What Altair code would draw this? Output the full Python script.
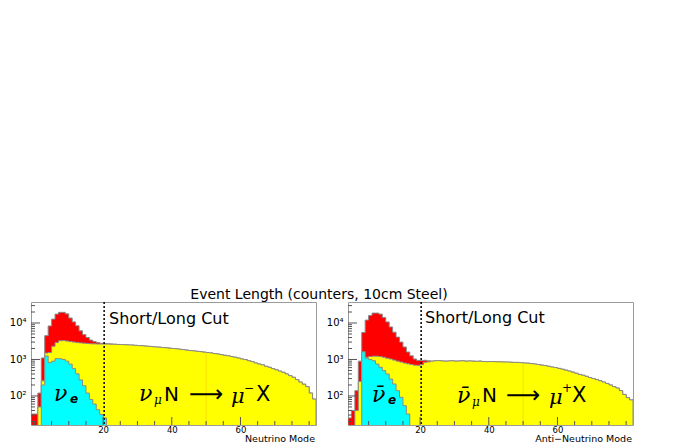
import altair as alt
import pandas as pd

# ---------------- data (bin starts, 1 counter wide) ----------------
BINS = list(range(-1, 82))

# Neutrino mode
NU_ALL = [32, 32, 120, 1100, 4500, 8300, 12800, 17500, 19600, 19600,
          17800, 13700, 10700, 8400, 6100, 4800, 4000, 3400, 3100, 2900,
          2780, 2720, 2690, 2660, 2620, 2580, 2560, 2530, 2500, 2480,
          2440, 2400, 2370, 2320, 2290, 2240, 2200, 2170, 2120, 2090,
          2040, 2000, 1960, 1900, 1860, 1800, 1750, 1720, 1670, 1640,
          1590, 1550, 1510, 1450, 1410, 1350, 1300, 1260, 1200, 1150,
          1090, 1030, 990, 920, 870, 800, 750, 710, 650, 610,
          560, 520, 480, 445, 400, 360, 325, 280, 240, 210,
          180, 120, 82]
NU_NUMU = [0, 0, 50, 260, 1500, 1550, 2300, 2900, 3250, 3300,
           3200, 3100, 3000, 2900, 2850, 2800, 2750, 2700, 2680, 2650,
           2650, 2640, 2640, 2620, 2600, 2580, 2560, 2530, 2500, 2480,
           2440, 2400, 2370, 2320, 2290, 2240, 2200, 2170, 2120, 2090,
           2040, 2000, 1960, 1900, 1860, 1800, 1750, 1720, 1670, 1640,
           1590, 1550, 1510, 1450, 1410, 1350, 1300, 1260, 1200, 1150,
           1090, 1030, 990, 920, 870, 800, 750, 710, 650, 610,
           560, 520, 480, 445, 400, 360, 325, 280, 240, 210,
           180, 120, 82]
NU_NUE = [0, 0, 0, 200, 1250, 820, 900, 1050, 1050, 1000,
          900, 745, 560, 405, 275, 190, 120, 80, 60, 42,
          31, 25] + [0] * 61

# Anti-neutrino mode
ANU_ALL = [25, 40, 140, 900, 5500, 12000, 16000, 18700, 18700, 17500,
           14200, 10700, 7800, 5600, 4100, 3000, 2200, 1600, 1260, 1030,
           940, 940, 950, 920, 900, 920, 930, 910, 900, 910,
           920, 900, 910, 920, 900, 910, 900, 890, 900, 880,
           870, 880, 870, 860, 860, 850, 850, 840, 830, 830,
           820, 800, 790, 770, 750, 730, 700, 680, 650, 620,
           600, 570, 540, 510, 480, 450, 420, 390, 370, 345,
           320, 300, 280, 260, 240, 220, 200, 180, 165, 140,
           110, 90, 78]
ANU_NUMU = [0, 0, 40, 250, 1100, 1150, 1200, 1230, 1230, 1200,
            1150, 1080, 1030, 960, 900, 850, 800, 760, 730, 700,
            690, 720, 840, 860, 900, 920, 930, 910, 900, 910,
            920, 900, 910, 920, 900, 910, 900, 890, 900, 880,
            870, 880, 870, 860, 860, 850, 850, 840, 830, 830,
            820, 800, 790, 770, 750, 730, 700, 680, 650, 620,
            600, 570, 540, 510, 480, 450, 420, 390, 370, 345,
            320, 300, 280, 260, 240, 220, 200, 180, 165, 140,
            110, 90, 78]
ANU_NUE = [0, 0, 0, 0, 1630, 1080, 1000, 925, 750, 610,
           495, 400, 290, 213, 140, 92, 54, 32] + [0] * 65

X_LABELS = [20, 40, 60]
X_MINOR = [0, 5, 10, 15, 25, 30, 35, 45, 50, 55, 65, 70, 75, 80]
Y_MAJOR = [100, 1000, 10000]
Y_MINOR = [20, 30, 40, 50, 60, 70, 80, 90,
           200, 300, 400, 500, 600, 700, 800, 900,
           2000, 3000, 4000, 5000, 6000, 7000, 8000, 9000,
           20000, 30000]
CUT = 20.3
SEAM = 50

# ---------------- styling ----------------
PW, PH = 285, 123
FONT = "DejaVu Sans"
SERIF = "DejaVu Serif"
XS = alt.Scale(domain=[-1, 82], nice=False, zero=False)
YS = alt.Scale(type="log", domain=[16, 37600], nice=False)
OUTLINE = "#8a8a8a"
XA = alt.Axis(values=X_LABELS, ticks=False, domain=False, grid=False,
              labelFont=FONT, labelFontSize=8.5, labelPadding=0,
              labelColor="black", title=None)
YA = alt.Axis(values=Y_MAJOR, ticks=False, domain=False, grid=False,
              labelExpr="datum.value == 100 ? '10²' : datum.value == 1000 ? '10³' : '10⁴'",
              labelFont=FONT, labelFontSize=10, labelPadding=5,
              labelColor="black", title=None)


def step_df(vals):
    rows = [(b, v) for b, v in zip(BINS, vals) if v > 0]
    rows.append((rows[-1][0] + 1, rows[-1][1]))
    return pd.DataFrame(rows, columns=["x", "v"])


def area(vals, fill):
    return alt.Chart(step_df(vals)).mark_area(
        interpolate="step-after", fill=fill, fillOpacity=1, stroke=OUTLINE,
        strokeWidth=1, clip=True
    ).encode(
        x=alt.X("x:Q", scale=XS, axis=XA),
        y=alt.Y("v:Q", scale=YS, axis=YA),
        y2=alt.datum(1),
    )


def yticks(vals, length):
    return alt.Chart(pd.DataFrame({"v": vals})).mark_rule(color="#555555", strokeWidth=1).encode(
        y=alt.Y("v:Q", scale=YS, axis=YA), x=alt.value(0), x2=alt.value(length))


def xticks(vals, length):
    return alt.Chart(pd.DataFrame({"x": vals})).mark_rule(color="#555555", strokeWidth=1).encode(
        x=alt.X("x:Q", scale=XS, axis=XA), y=alt.value(PH), y2=alt.value(PH - length))


def cutline():
    return alt.Chart(pd.DataFrame({"x": [CUT]})).mark_rule(
        color="black", strokeWidth=1.5, strokeDash=[2, 2]
    ).encode(x=alt.X("x:Q", scale=XS, axis=XA), y=alt.value(0), y2=alt.value(PH))


def seam(vals):
    v = vals[BINS.index(SEAM)]
    return alt.Chart(pd.DataFrame({"x": [SEAM], "v": [v]})).mark_rule(
        color="#efd400", strokeWidth=0.7, clip=True
    ).encode(x=alt.X("x:Q", scale=XS, axis=XA), y=alt.Y("v:Q", scale=YS, axis=YA),
             y2=alt.datum(1))


def txt(s, x, y, size, align="left", style="normal", weight="normal", font=FONT):
    return alt.Chart(pd.DataFrame({"t": [s]})).mark_text(
        align=align, baseline="middle", fontSize=size, font=font,
        fontStyle=style, fontWeight=weight, color="black"
    ).encode(text="t:N", x=alt.value(x), y=alt.value(y))


def panel(total, numu, nue, texts):
    layers = [
        area(total, "#ff0000"),
        area(numu, "#ffff00"),
        area(nue, "#00ffff"),
        seam(numu),
        cutline(),
        yticks(Y_MAJOR, 9), yticks(Y_MINOR, 4),
        xticks(X_LABELS, 8), xticks(X_MINOR, 4),
    ] + texts
    return alt.layer(*layers).properties(width=PW, height=PH)


left_texts = [
    txt("Event Length (counters, 10cm Steel)", 288, -7, 14, align="center"),
    txt("Short/Long Cut", 78, 17, 16),
    txt("ν", 23, 92, 22, style="italic", font=SERIF),
    txt("e", 39, 97, 12, style="italic", weight="bold"),
    txt("ν", 108, 92, 22, style="italic", font=SERIF),
    txt("μ", 123, 98, 12, style="italic", font=SERIF),
    txt("N", 133, 93, 20),
    txt("⟶", 158, 93, 24),
    txt("μ", 200, 95, 21, style="italic", font=SERIF),
    txt("−", 213, 86, 12),
    txt("X", 225, 93, 21),
    txt("Neutrino Mode", 284, 137, 9.5, align="right"),
]
right_texts = [
    txt("Short/Long Cut", 77, 16, 16),
    txt("ν\u0304", 24, 93, 22, style="italic", font=SERIF),
    txt("e", 40, 98, 12, style="italic", weight="bold"),
    txt("ν\u0304", 109, 94, 22, style="italic", font=SERIF),
    txt("μ", 124, 100, 12, style="italic", font=SERIF),
    txt("N", 134, 94, 20),
    txt("⟶", 158, 94, 24),
    txt("μ", 201, 96, 21, style="italic", font=SERIF),
    txt("+", 214, 86, 12),
    txt("X", 224, 94, 21),
    txt("Anti−Neutrino Mode", 284, 137, 9.5, align="right"),
]

left = panel(NU_ALL, NU_NUMU, NU_NUE, left_texts)
right = panel(ANU_ALL, ANU_NUMU, ANU_NUE, right_texts)

chart = alt.hconcat(left, right, spacing=32, bounds="flush").properties(
    padding={"left": 0, "top": 279, "right": 0, "bottom": 0}
).configure_view(stroke="#9a9a9a", strokeWidth=1)

chart.save("out.html", embed_options={"renderer": "svg", "actions": False})
